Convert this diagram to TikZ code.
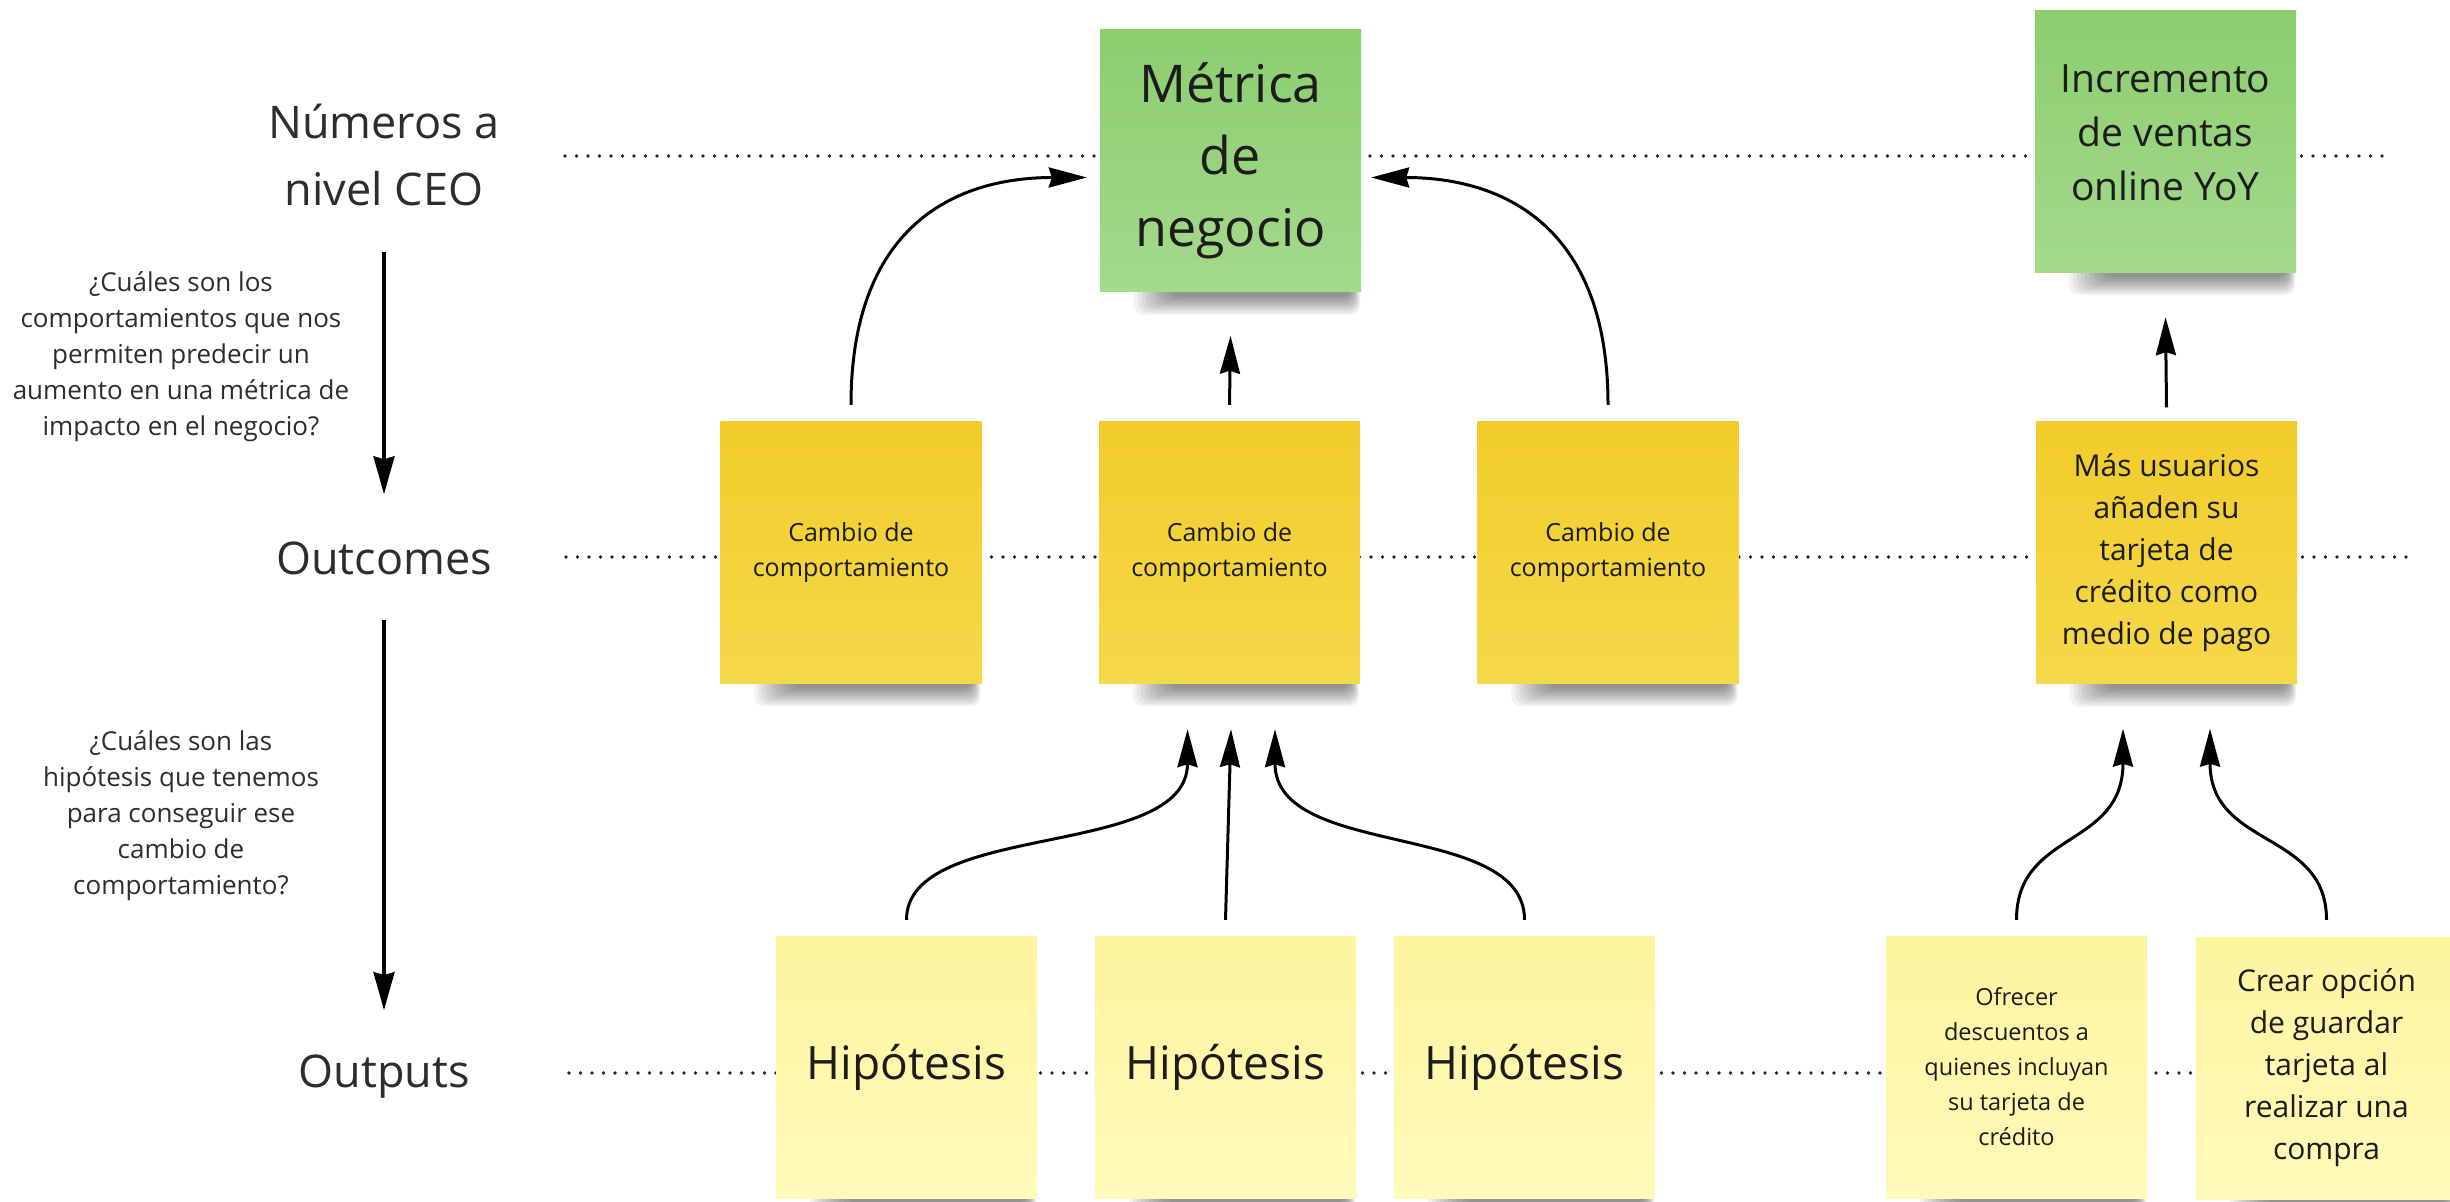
\documentclass[tikz,border=0pt]{standalone}
\usepackage{fontspec}
\setmainfont{Open Sans}
\usetikzlibrary{arrows.meta,calc,backgrounds}

\definecolor{grnT}{RGB}{140,205,110}
\definecolor{grnB}{RGB}{163,218,140}
\definecolor{ylwT}{RGB}{241,204,42}
\definecolor{ylwB}{RGB}{246,217,74}
\definecolor{ltyT}{RGB}{253,244,158}
\definecolor{ltyB}{RGB}{255,250,186}
\definecolor{ink}{RGB}{28,28,28}
\definecolor{labelc}{RGB}{45,45,45}

\begin{document}
\begin{tikzpicture}[x=1pt,y=-1pt,
  sticky/.style={minimum width=261pt,minimum height=262pt,inner sep=0pt,align=center,text=ink},
  gnote/.style={sticky,top color=grnT,bottom color=grnB},
  ynote/.style={sticky,top color=ylwT,bottom color=ylwB},
  lnote/.style={sticky,top color=ltyT,bottom color=ltyB},
  lab/.style={font=\fontsize{45}{67}\selectfont,text=labelc,align=center,inner sep=0pt},
  qtext/.style={font=\fontsize{26}{36}\selectfont,text=labelc,align=center,inner sep=0pt},
  dots/.style={line width=3.6pt,dash pattern=on 0pt off 11.5pt,line cap=round,black!85},
  arr/.style={-{Stealth[length=38pt,width=20pt,inset=3pt]},line width=3pt,black},
  bigarr/.style={-{Stealth[length=38pt,width=21pt,inset=3pt]},line width=3.2pt,black}
]
\useasboundingbox (0,0) rectangle (2450,1202);

% dotted level lines
\draw[dots] (565,156) -- (2387,156);
\draw[dots] (566,557) -- (2406,557);
\draw[dots] (569,1073) -- (2440,1073);

% level labels
\node[lab] (ceo) at (384,155) {Números a\\nivel CEO};
\node[lab] (outc) at (384,558) {Outcomes};
\node[lab] (outp) at (384,1077) {Outputs};
\node[qtext] (q1) at (181,357) {¿Cuáles son los\\comportamientos que nos\\permiten predecir un\\aumento en una métrica de\\impacto en el negocio?};
\node[qtext] (q2) at (181,816) {¿Cuáles son las\\hipótesis que tenemos\\para conseguir ese\\cambio de\\comportamiento?};

% sticky notes
\node[gnote,font=\fontsize{52}{72}\selectfont] (met) at (1230.5,160.5) {Métrica\\de\\negocio};
\node[gnote,font=\fontsize{39}{54}\selectfont,text depth=16pt] (inc) at (2165.5,141) {Incremento\\de ventas\\online YoY};
\node[ynote,font=\fontsize{25}{35}\selectfont] (c1) at (851,552) {Cambio de\\comportamiento};
\node[ynote,font=\fontsize{25}{35}\selectfont] (c2) at (1229.5,552) {Cambio de\\comportamiento};
\node[ynote,font=\fontsize{25}{35}\selectfont] (c3) at (1608,552) {Cambio de\\comportamiento};
\node[ynote,font=\fontsize{30}{42}\selectfont] (mas) at (2166.5,552.5) {Más usuarios\\añaden su\\tarjeta de\\crédito como\\medio de pago};
\node[lnote,font=\fontsize{46}{60}\selectfont] (h1) at (906.5,1067) {Hipótesis};
\node[lnote,font=\fontsize{46}{60}\selectfont] (h2) at (1225.5,1067) {Hipótesis};
\node[lnote,font=\fontsize{46}{60}\selectfont] (h3) at (1524.5,1067) {Hipótesis};
\node[lnote,font=\fontsize{23.5}{35}\selectfont] (of) at (2016.5,1067) {Ofrecer\\descuentos a\\quienes incluyan\\su tarjeta de\\crédito};
\node[lnote,font=\fontsize{30}{42}\selectfont] (cr) at (2326.5,1068) {Crear opción\\de guardar\\tarjeta al\\realizar una\\compra};

% soft shadows and background
\begin{scope}[on background layer]
  \fill[white] (0,0) rectangle (2450,1202);
  \foreach \n in {met,inc,c1,c2,c3,mas,h1,h2,h3,of,cr}{
    \foreach \k in {0,...,9}{
      \fill[black,opacity=0.05,rounded corners=10pt]
        ($(\n.south west)+(34+4*\k,-24)$) rectangle ($(\n.south east)+(-1-\k,23-2*\k)$);
    }
  }
\end{scope}

% left flow arrows
\draw[bigarr] ($(ceo.south)+(0,46)$) -- ($(outc.north)+(0,-47)$);
\draw[bigarr] ($(outc.south)+(0,45)$) -- ($(outp.north)+(0,-45)$);

% outcomes -> business metric
\draw[arr] ($(c1.north)+(0,-16)$) .. controls +(0,-175) and +(-136,0) .. ($(met.west)+(-13,17)$);
\draw[arr] ($(c2.north)+(0,-16)$) -- ($(met.south)+(0,44)$);
\draw[arr] ($(c3.north)+(0,-16)$) .. controls +(0,-175) and +(136,0) .. ($(met.east)+(10,17)$);
\draw[arr] ($(mas.north)+(0,-14)$) -- ($(inc.south)+(0,45)$);

% hypotheses -> outcomes
\draw[arr] ($(h1.north)+(0,-16)$) .. controls +(0,-100) and +(0,131) .. ($(c2.south)+(-42,46)$);
\draw[arr] ($(h2.north)+(0,-16)$) -- ($(c2.south)+(1.5,46)$);
\draw[arr] ($(h3.north)+(0,-16)$) .. controls +(0,-100) and +(0,131) .. ($(c2.south)+(45.5,46)$);
\draw[arr] ($(of.north)+(0,-16)$) .. controls +(0,-90) and +(0,120) .. ($(mas.south)+(-43.5,45)$);
\draw[arr] ($(cr.north)+(0,-17)$) .. controls +(0,-90) and +(0,120) .. ($(mas.south)+(43.5,45)$);
\end{tikzpicture}
\end{document}
